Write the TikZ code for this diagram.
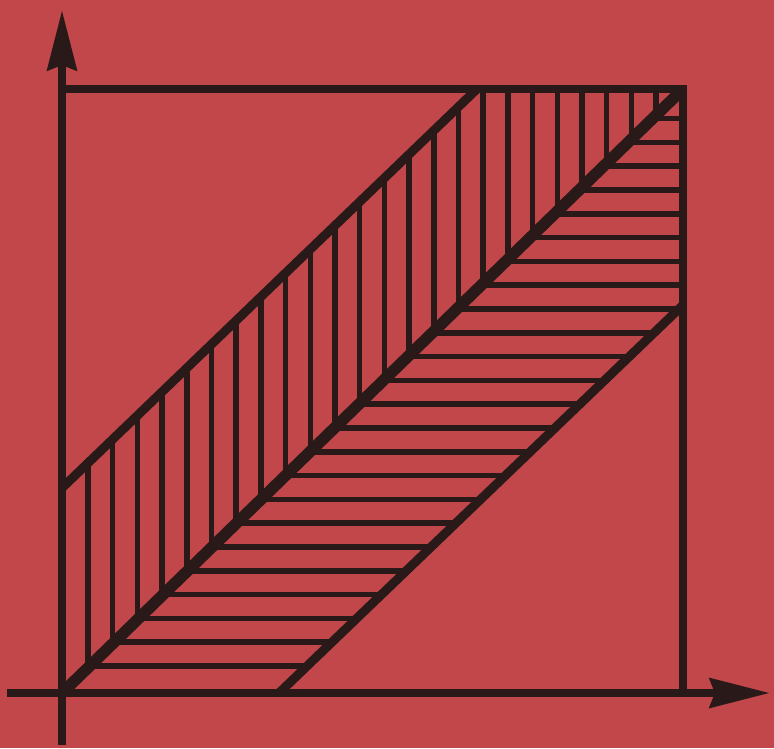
\documentclass[tikz,border=0pt]{standalone}
\usepackage{tikz}
\usetikzlibrary{arrows.meta}
\definecolor{bgred}{HTML}{C2474A}
\definecolor{ink}{HTML}{2A1919}
\tikzset{
  axis/.style ={line width=0.85mm, draw=ink, -{Stealth[length=6mm, width=2.9mm, inset=0.5mm]}},
  frame/.style={line width=0.75mm, draw=ink},
  diag/.style ={line width=1.15mm, draw=ink},
  edge/.style ={line width=0.9mm, draw=ink},
  hatch/.style={line width=0.55mm, draw=ink},
}

\begin{document}
\begin{tikzpicture}[x=0.1mm, y=-0.1mm]

% background
\fill[bgred] (0,0) rectangle (774,748);
\useasboundingbox (0,0) rectangle (774,748);

% ---------------- key points ----------------
\coordinate (O)  at (62,693);
\coordinate (tl) at (62,89);
\coordinate (tr) at (683,89);
\coordinate (br) at (683,693);
\coordinate (ua) at (62,488);   % upper line, left end
\coordinate (ub) at (477,89);   % upper line, top end
\coordinate (la) at (279,693);  % lower line, bottom end
\coordinate (lb) at (683,305);  % lower line, right end

% ---------------- hatching ----------------
\begin{scope}
  \clip (O) -- (ua) -- (ub) -- (tr) -- cycle;
  \foreach \k in {0,...,23}{
    \draw[hatch] (88+24.7*\k, 60) -- (88+24.7*\k, 720);
  }
\end{scope}
\begin{scope}
  \clip (O) -- (tr) -- (lb) -- (la) -- cycle;
  \foreach \k in {0,...,23}{
    \draw[hatch] (40, 666-23.8*\k) -- (720, 666-23.8*\k);
  }
\end{scope}

% ---------------- frame and bands ----------------
\draw[frame] (tl) -- (tr) -- (br);
\draw[edge] (ua) -- (ub);
\draw[edge] (la) -- (lb);
\begin{scope}
  \clip (tl) rectangle (br);
  \draw[diag] (O) -- (tr);
\end{scope}

% ---------------- axes ----------------
\coordinate (ys) at (62,745);
\coordinate (ye) at (62,10);
\coordinate (xs) at (7,693);
\coordinate (xe) at (770,693);
\draw[axis] (ys) -- (ye);
\draw[axis] (xs) -- (xe);

\end{tikzpicture}
\end{document}
